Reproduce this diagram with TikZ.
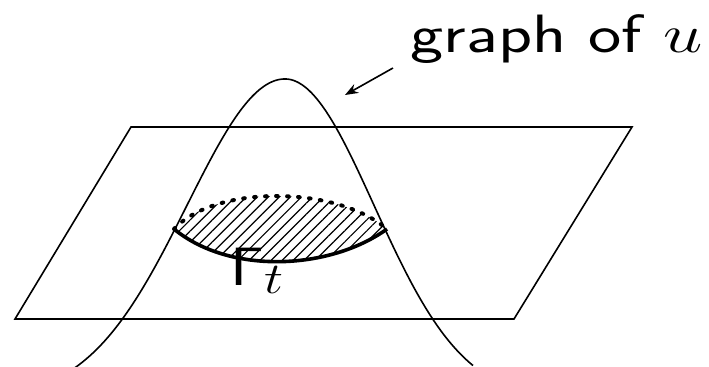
\RequirePackage{fix-cm}
\documentclass[tikz,border=0pt]{standalone}
\usetikzlibrary{arrows.meta,patterns.meta}
\DeclareMathSizes{27}{27}{22}{17}

\begin{document}
\begin{tikzpicture}[x=0.5pt,y=-0.5pt,>=Stealth,
  l/.style={line width=0.8pt},
  g/.style={line width=1.8pt},
  dt/.style={line width=2pt,line cap=round,dash pattern=on 0.8pt off 4.7pt},
  hatch/.style={pattern={Lines[angle=45,distance=3.9pt,line width=0.6pt]}},
  lbl/.style={inner sep=0pt,anchor=base west,xscale=1.22,font=\sffamily\fontsize{27}{32}\selectfont}]
\useasboundingbox (0,0) rectangle (709,366);
% plane
\draw[l] (131,127) -- (632,127) -- (514,319) -- (15,319) -- cycle;
% graph of u
\draw[l] plot[domain=63:473,samples=90,smooth] (\x,{400-321*exp(-0.5*((\x-285)/((\x<285)?98:89))^2)});
% level set
\coordinate (gl) at (174,229);
\coordinate (gr) at (387,229);
\path[hatch] (gl) .. controls (215,185) and (335,185) .. (gr) .. controls (330,270) and (230,275) .. (gl);
\draw[dt] (gl) .. controls (215,185) and (335,185) .. (gr);
\draw[g] (gl) .. controls (230,275) and (330,270) .. (gr);
% labels
\node[lbl,xscale=1.07] (graphu) at (410,52) {graph of $u$};
\node[lbl] (gammat) at (230,285) {$\mathsf{\Gamma}_t$};
\coordinate (arrs) at (393,68);
\coordinate (arre) at (345,95);
\draw[l,->] (arrs) -- (arre);
\end{tikzpicture}
\end{document}
